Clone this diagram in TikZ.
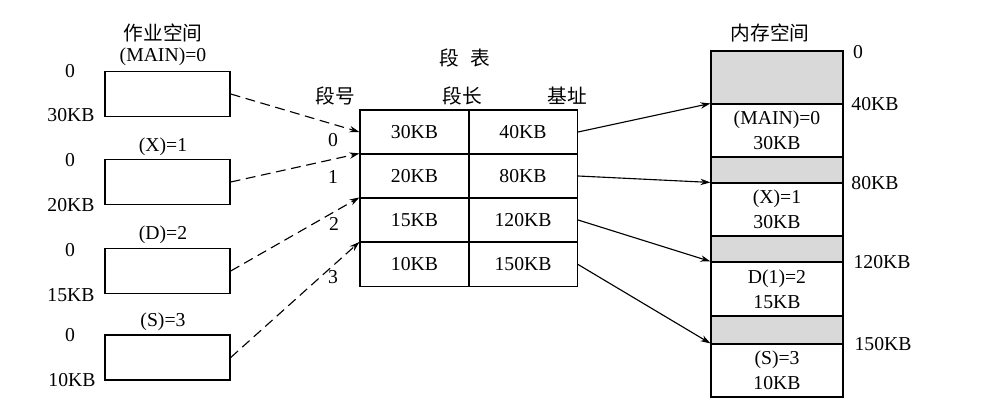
\documentclass[tikz,border=0pt]{standalone}
\usepackage{fontspec}
\setmainfont{Liberation Serif}
\newfontfamily\cjk{Noto Sans CJK SC}
\usetikzlibrary{arrows.meta}

\tikzset{
  job/.style={draw, line width=1pt, minimum width=3.125cm, minimum height=1.125cm},
  cell/.style={draw, line width=0.8pt, minimum width=2.725cm, minimum height=1.1cm, inner sep=0pt},
  used/.style={draw, line width=0.8pt, minimum width=3.3cm, align=center, inner sep=0pt},
  free/.style={used, fill=black!15},
  toseg/.style={line width=0.8pt, dash pattern=on 7pt off 4pt, -{Stealth[length=2.5mm, width=1.6mm]}},
  tomem/.style={line width=0.8pt, -{Stealth[length=2.5mm, width=1.6mm]}},
}

\begin{document}
\begin{tikzpicture}[x=0.025cm, y=-0.025cm, font=\fontsize{14}{17.7}\selectfont]
  \useasboundingbox (0, 0) rectangle (986, 412);

  % Job space
  \node (jobs) at (163, 33) {\cjk 作业空间};
  \node[job] (j_0) at (167.5, 94) {};
  \node[job] (j_1) at (167.5, 182) {};
  \node[job] (j_2) at (167.5, 271) {};
  \node[job] (j_3) at (167.5, 357.5) {};

  \node at (163, 57) {(MAIN)=0};
  \node at (163, 147) {(X)=1};
  \node at (163, 235) {(D)=2};
  \node at (163, 322) {(S)=3};

  \node at (70, 71) {0};
  \node at (71, 115) {30KB};
  \node at (70, 160) {0};
  \node at (71, 205) {20KB};
  \node at (70, 250) {0};
  \node at (71, 295) {15KB};
  \node at (70, 335) {0};
  \node at (72, 380) {10KB};

  % Segment table
  \node (title) at (465, 58) {\cjk 段\hspace{0.6em}表};
  \node at (335, 96) {\cjk 段号};
  \node at (462, 96) {\cjk 段长};
  \node at (567, 96) {\cjk 基址};

  \node[cell] (s_00) at (414.5, 132) {30KB};
  \node[cell] (s_01) at (523, 132) {40KB};
  \node[cell] (s_10) at (414.5, 176) {20KB};
  \node[cell] (s_11) at (523, 176) {80KB};
  \node[cell] (s_20) at (414.5, 220) {15KB};
  \node[cell] (s_21) at (523, 220) {120KB};
  \node[cell] (s_30) at (414.5, 264.5) {10KB};
  \node[cell] (s_31) at (523, 264.5) {150KB};

  \node at (333, 140) {0};
  \node at (333, 177) {1};
  \node at (334, 224) {2};
  \node at (333, 277) {3};

  % Memory space
  \node (mem) at (770, 33) {\cjk 内存空间};
  \node[free, minimum height=1.325cm] (f_0) at (777, 77.5) {};
  \node[used, minimum height=1.325cm] (m_0) at (777, 130.5) {(MAIN)=0\\30KB};
  \node[free, minimum height=0.65cm] (f_1) at (777, 170) {};
  \node[used, minimum height=1.325cm] (m_1) at (777, 209.5) {(X)=1\\30KB};
  \node[free, minimum height=0.65cm] (f_2) at (777, 249) {};
  \node[used, minimum height=1.35cm] (m_2) at (777, 289) {D(1)=2\\15KB};
  \node[free, minimum height=0.7cm] (f_3) at (777, 330) {};
  \node[used, minimum height=1.325cm] (m_3) at (777, 370.5) {(S)=3\\10KB};

  \node at (858, 52) {0};
  \node at (875, 104) {40KB};
  \node at (875, 183) {80KB};
  \node at (882, 262) {120KB};
  \node at (883, 344) {150KB};

  \draw[toseg] (j_0.east) to (s_00.west);
  \draw[toseg] (j_1.east) to (s_10.north west);
  \draw[toseg] (j_2.east) to (s_20.north west);
  \draw[toseg] (j_3.east) to (s_30.north west);

  \draw[tomem] (s_01.east) to (m_0.north west);
  \draw[tomem] (s_11.east) to (m_1.north west);
  \draw[tomem] (s_21.east) to (m_2.north west);
  \draw[tomem] (s_31.east) to (m_3.north west);

\end{tikzpicture}
\end{document}
